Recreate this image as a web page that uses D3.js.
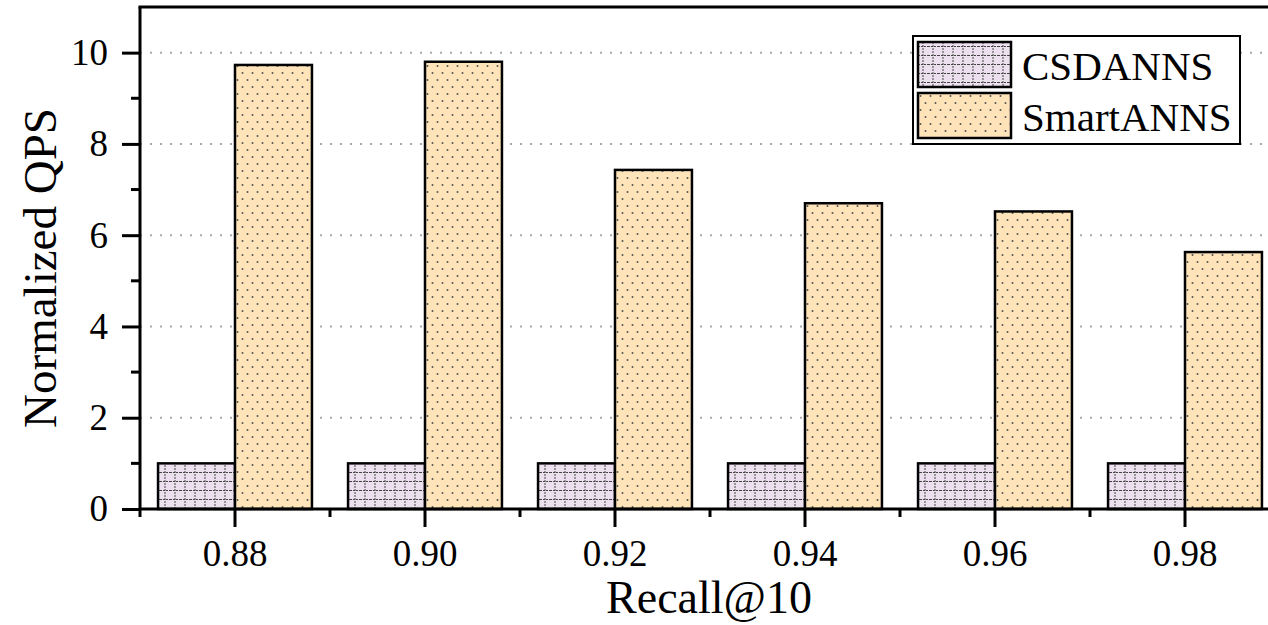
<!DOCTYPE html>
<html>
<head>
<meta charset="utf-8">
<script src="https://cdn.jsdelivr.net/npm/d3@7"></script>
<style>
  body { margin: 0; background: #fff; }
  svg { display: block; }
  text { font-family: "Liberation Serif", "Times New Roman", serif; fill: #000; }
</style>
</head>
<body>
<div id="chart"></div>
<script>
// data
const recall = ["0.88", "0.90", "0.92", "0.94", "0.96", "0.98"];
const csdanns = [1, 1, 1, 1, 1, 1];
const smartanns = [9.73, 9.80, 7.43, 6.70, 6.52, 5.63];
const seriesNames = ["CSDANNS", "SmartANNS"];
const yMajor = [0, 2, 4, 6, 8, 10];
const yMinor = [1, 3, 5, 7, 9];

const W = 1268, H = 625;
const plotLeft = 140, plotTop = 7, plotBottom = 509;
const bandW = 190;

const svg = d3.select("#chart").append("svg")
  .attr("width", W).attr("height", H)
  .attr("font-family", "Liberation Serif, Times New Roman, serif");

const defs = svg.append("defs");

// grid pattern for CSDANNS
const pGrid = defs.append("pattern")
  .attr("id", "gridPat").attr("patternUnits", "userSpaceOnUse")
  .attr("width", 10).attr("height", 9);
pGrid.append("rect").attr("width", 10).attr("height", 9).attr("fill", "#ece0ee");
pGrid.append("line").attr("x1", 5).attr("x2", 5).attr("y1", 0).attr("y2", 9)
  .attr("stroke", "#444").attr("stroke-width", 1).attr("stroke-dasharray", "2,1");
pGrid.append("line").attr("x1", 0).attr("x2", 10).attr("y1", 4.5).attr("y2", 4.5)
  .attr("stroke", "#444").attr("stroke-width", 1).attr("stroke-dasharray", "2,1");

// dot pattern for SmartANNS
const pDot = defs.append("pattern")
  .attr("id", "dotPat").attr("patternUnits", "userSpaceOnUse")
  .attr("width", 10).attr("height", 14);
pDot.append("rect").attr("width", 10).attr("height", 14).attr("fill", "#ffe4ba");
pDot.append("circle").attr("cx", 2.5).attr("cy", 3).attr("r", 1).attr("fill", "#555");
pDot.append("circle").attr("cx", 7.5).attr("cy", 10).attr("r", 1).attr("fill", "#555");

const fills = ["url(#gridPat)", "url(#dotPat)"];

const x = d3.scaleBand()
  .domain(recall)
  .range([plotLeft, plotLeft + bandW * recall.length])
  .padding(0);

const y = d3.scaleLinear()
  .domain([0, 11])
  .range([plotBottom, plotTop]);

const barW = x.bandwidth() * 0.405;

// dotted grid lines
svg.append("g")
  .selectAll("line")
  .data(yMajor.filter(d => d > 0))
  .enter().append("line")
  .attr("x1", plotLeft).attr("x2", W)
  .attr("y1", d => y(d)).attr("y2", d => y(d))
  .attr("stroke", "#aaa").attr("stroke-width", 2)
  .attr("stroke-dasharray", "2,8");

// bars
const groups = svg.append("g")
  .selectAll("g")
  .data(recall)
  .enter().append("g");

groups.append("rect")
  .attr("x", (d, i) => x(d) + x.bandwidth() / 2 - barW)
  .attr("y", (d, i) => y(csdanns[i]))
  .attr("width", barW)
  .attr("height", (d, i) => y(0) - y(csdanns[i]))
  .attr("fill", fills[0])
  .attr("stroke", "#000").attr("stroke-width", 2.5);

groups.append("rect")
  .attr("x", (d, i) => x(d) + x.bandwidth() / 2)
  .attr("y", (d, i) => y(smartanns[i]))
  .attr("width", barW)
  .attr("height", (d, i) => y(0) - y(smartanns[i]))
  .attr("fill", fills[1])
  .attr("stroke", "#000").attr("stroke-width", 2.5);

// x axis
const xAxis = svg.append("g")
  .attr("transform", "translate(0," + plotBottom + ")")
  .call(d3.axisBottom(x).tickSize(18).tickPadding(13).tickSizeOuter(0))
  .attr("font-family", null);
xAxis.select(".domain").remove();
xAxis.append("line").attr("x1", plotLeft).attr("x2", W).attr("y1", 0).attr("y2", 0)
  .attr("stroke", "#000").attr("stroke-width", 3);
xAxis.selectAll(".tick line").attr("stroke", "#000").attr("stroke-width", 3);
xAxis.selectAll(".tick text").style("font-size", "37px");
xAxis.selectAll(".minor")
  .data(recall)
  .enter().append("line")
  .attr("class", "minor")
  .attr("x1", d => x(d)).attr("x2", d => x(d))
  .attr("y1", 0).attr("y2", 8)
  .attr("stroke", "#000").attr("stroke-width", 3);

// y axis
const yAxis = svg.append("g")
  .attr("transform", "translate(" + plotLeft + ",0)")
  .call(d3.axisLeft(y).tickValues(yMajor).tickSize(18).tickPadding(14).tickSizeOuter(0))
  .attr("font-family", null);
yAxis.select(".domain").remove();
yAxis.append("line").attr("x1", 0).attr("x2", 0).attr("y1", plotTop).attr("y2", plotBottom)
  .attr("stroke", "#000").attr("stroke-width", 3);
yAxis.selectAll(".tick line").attr("stroke", "#000").attr("stroke-width", 3);
yAxis.selectAll(".tick text").style("font-size", "37px");
yAxis.selectAll(".minor")
  .data(yMinor)
  .enter().append("line")
  .attr("class", "minor")
  .attr("x1", -9).attr("x2", 0)
  .attr("y1", d => y(d)).attr("y2", d => y(d))
  .attr("stroke", "#000").attr("stroke-width", 3);

// top frame
svg.append("line")
  .attr("x1", plotLeft - 1.5).attr("x2", W)
  .attr("y1", plotTop).attr("y2", plotTop)
  .attr("stroke", "#000").attr("stroke-width", 3);

// axis titles
svg.append("text")
  .attr("transform", "translate(56,268) rotate(-90)")
  .attr("text-anchor", "middle")
  .style("font-size", "47px")
  .text("Normalized QPS");

svg.append("text")
  .attr("x", 709).attr("y", 613)
  .attr("text-anchor", "middle")
  .style("font-size", "46px")
  .text("Recall@10");

// legend
const legend = svg.append("g");
legend.append("rect")
  .attr("x", 913).attr("y", 36).attr("width", 327).attr("height", 108)
  .attr("fill", "#fff").attr("stroke", "#000").attr("stroke-width", 2);
const items = legend.selectAll("g.item")
  .data(seriesNames)
  .enter().append("g").attr("class", "item")
  .attr("transform", (d, i) => "translate(918," + (42 + i * 51) + ")");
items.append("rect")
  .attr("width", 93).attr("height", 45)
  .attr("fill", (d, i) => fills[i])
  .attr("stroke", "#000").attr("stroke-width", 2.5);
items.append("text")
  .attr("x", 104).attr("y", 38)
  .style("font-size", "41px")
  .text(d => d);
</script>
</body>
</html>
